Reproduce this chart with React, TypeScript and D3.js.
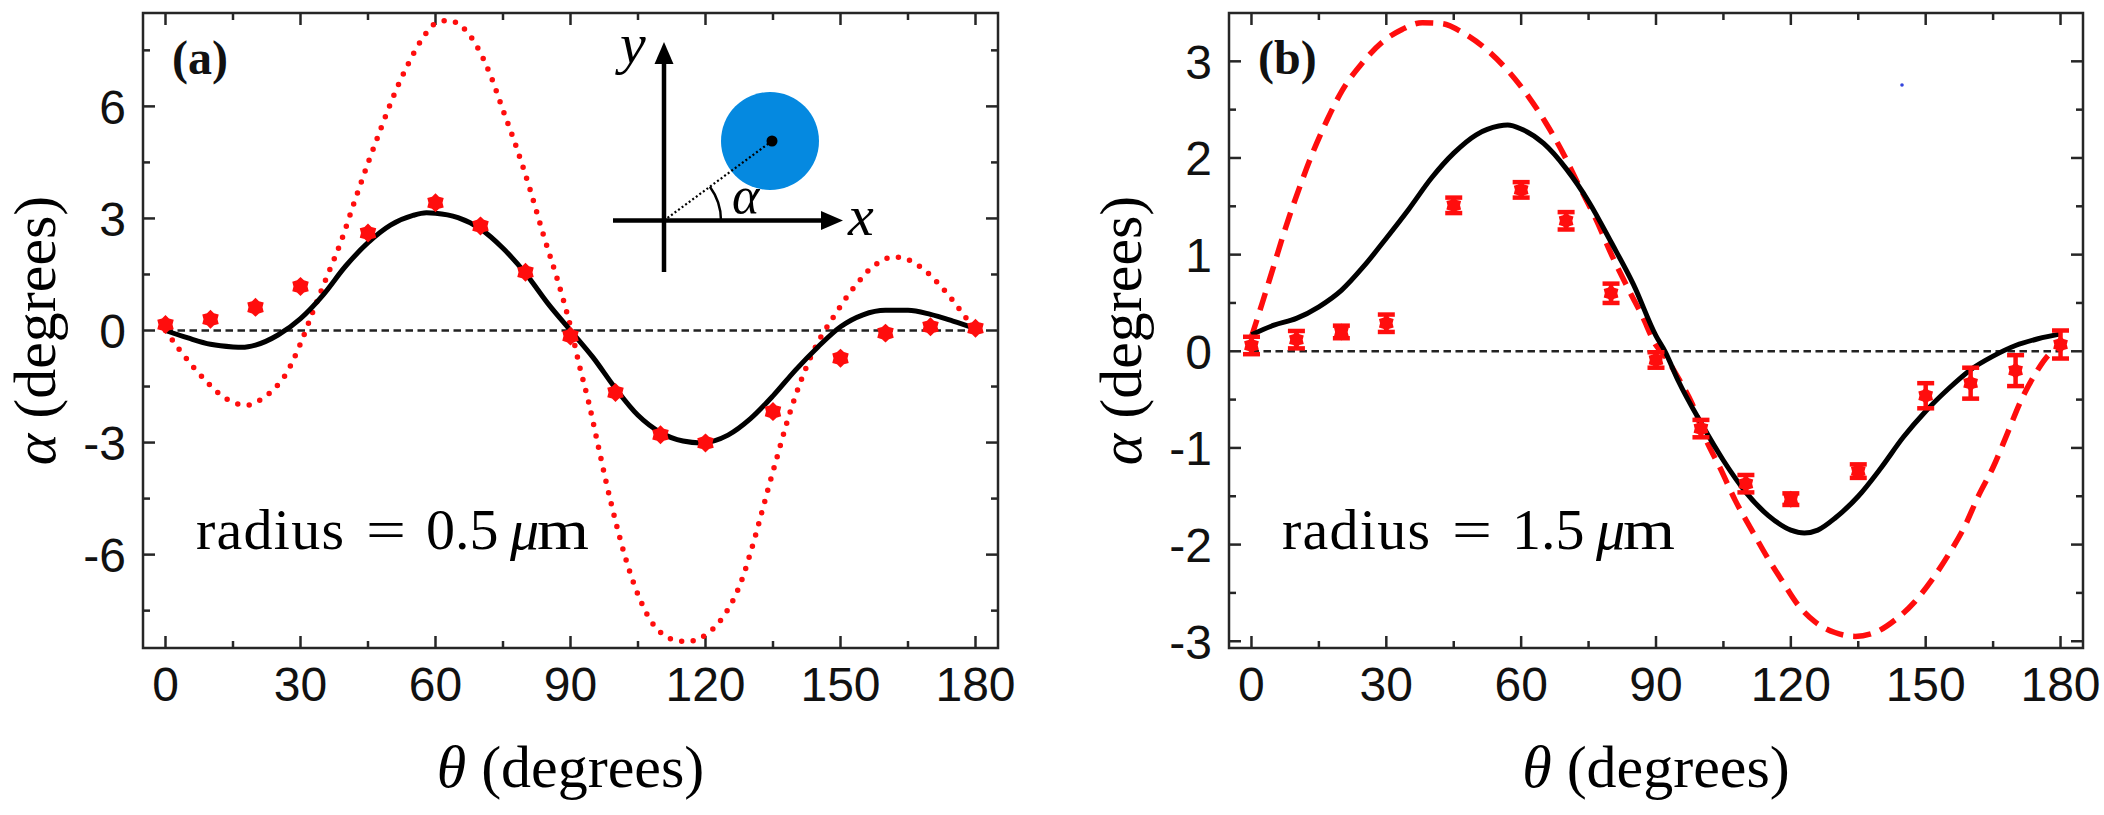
import React from "react";
import * as d3 from "d3";

const W = 2104;
const H = 815;

// ---- shared θ axis ----
const thetaMajor = [0, 30, 60, 90, 120, 150, 180];
const thetaMinor = [15, 45, 75, 105, 135, 165];

// ---- panel (a): radius = 0.5 μm ----
const alphaMajorA = [-6, -3, 0, 3, 6];
const alphaMinorA = [-7.5, -4.5, -1.5, 1.5, 4.5, 7.5];

const measThetaA = [0, 10, 20, 30, 45, 60, 70, 80, 90, 100, 110, 120, 135, 150, 160, 170, 180];
const measAlphaA = [0.16, 0.3, 0.62, 1.18, 2.61, 3.42, 2.8, 1.56, -0.15, -1.66, -2.79, -3.01, -2.17, -0.74, -0.07, 0.1, 0.06];

const solidThetaA = [0, 5, 10, 15, 17, 20, 25, 30, 35, 40, 45, 50, 55, 58, 60, 65, 70, 75, 80, 85, 90, 95, 100, 105, 110, 115, 119, 125, 130, 135, 140, 145, 150, 155, 160, 165, 170, 175, 180];
const solidAlphaA = [0, -0.2, -0.37, -0.44, -0.45, -0.39, -0.12, 0.32, 0.95, 1.72, 2.35, 2.82, 3.08, 3.15, 3.14, 3.02, 2.72, 2.2, 1.53, 0.72, 0.0, -0.72, -1.55, -2.27, -2.73, -2.96, -3.01, -2.8, -2.36, -1.75, -1.06, -0.44, 0.1, 0.42, 0.54, 0.54, 0.43, 0.25, 0.05];

const dottedThetaA = [0, 3, 6, 9, 12, 15, 18, 21, 24, 27, 30, 33, 36, 39, 42, 45, 48, 51, 54, 57, 60, 63, 66, 69, 72, 75, 78, 81, 84, 87, 90, 92, 94, 96, 98, 100, 102, 104, 106, 108, 110, 112, 114, 116, 118, 120, 122, 124, 126, 128, 130, 132, 134, 136, 138, 140, 142, 144, 146, 148, 150, 152, 154, 156, 158, 160, 162, 164, 166, 168, 170, 172, 174, 176, 178, 180];
const dottedAlphaA = [0, -0.5, -0.95, -1.35, -1.7, -1.92, -2.0, -1.86, -1.58, -1.12, -0.35, 0.58, 1.48, 2.38, 3.45, 4.48, 5.45, 6.37, 7.15, 7.8, 8.22, 8.3, 8.12, 7.65, 6.9, 5.9, 4.9, 3.78, 2.55, 1.4, 0.1, -0.95, -1.9, -3.0, -4.1, -5.1, -6.0, -6.75, -7.35, -7.8, -8.08, -8.24, -8.31, -8.33, -8.28, -8.15, -7.95, -7.65, -7.25, -6.7, -5.95, -5.1, -4.2, -3.35, -2.5, -1.75, -1.1, -0.55, -0.1, 0.28, 0.65, 1.0, 1.3, 1.58, 1.78, 1.92, 1.97, 1.94, 1.84, 1.68, 1.48, 1.22, 0.95, 0.64, 0.32, 0.05];

// ---- panel (b): radius = 1.5 μm ----
const alphaMajorB = [-3, -2, -1, 0, 1, 2, 3];
const alphaMinorB = [-2.5, -1.5, -0.5, 0.5, 1.5, 2.5];

const measThetaB = [0, 10, 20, 30, 45, 60, 70, 80, 90, 100, 110, 120, 135, 150, 160, 170, 180];
const measAlphaB = [0.06, 0.12, 0.2, 0.29, 1.51, 1.67, 1.35, 0.6, -0.09, -0.8, -1.37, -1.53, -1.24, -0.46, -0.33, -0.2, 0.07];
const measErrB = [0.09, 0.09, 0.065, 0.09, 0.08, 0.08, 0.09, 0.1, 0.08, 0.09, 0.09, 0.06, 0.07, 0.13, 0.16, 0.16, 0.145];

const solidThetaB = [0, 5, 10, 15, 20, 25, 30, 35, 40, 45, 50, 55, 57, 60, 65, 70, 75, 80, 85, 90, 92, 95, 100, 105, 110, 115, 120, 123, 126, 130, 135, 140, 145, 150, 155, 160, 165, 170, 175, 180];
const solidAlphaB = [0.17, 0.27, 0.34, 0.46, 0.63, 0.88, 1.17, 1.47, 1.79, 2.05, 2.24, 2.33, 2.34, 2.3, 2.15, 1.89, 1.55, 1.13, 0.69, 0.16, 0.0, -0.31, -0.74, -1.13, -1.46, -1.7, -1.85, -1.88, -1.85, -1.72, -1.5, -1.21, -0.89, -0.62, -0.39, -0.19, -0.05, 0.06, 0.13, 0.18];

const dashedThetaB = [0, 2.4, 5, 7.6, 10.5, 13.5, 16.8, 20.2, 24.6, 29.1, 33.5, 38, 42.4, 46.9, 52.1, 57.3, 61.7, 65.4, 69.1, 72.8, 76.6, 80.3, 84, 86.9, 89.9, 92, 95, 98, 100.9, 104.6, 107.6, 111.3, 115, 118, 121.7, 125.4, 129.8, 134.3, 138.7, 143.2, 147.6, 151.3, 155, 158.8, 161.7, 165, 168, 171.3, 174.3, 177.3, 180];
const dashedAlphaB = [0.15, 0.5, 0.89, 1.28, 1.67, 2.04, 2.39, 2.7, 2.98, 3.2, 3.33, 3.4, 3.39, 3.3, 3.13, 2.89, 2.63, 2.37, 2.07, 1.72, 1.37, 0.98, 0.63, 0.37, 0.07, -0.05, -0.28, -0.54, -0.89, -1.24, -1.54, -1.85, -2.15, -2.37, -2.63, -2.8, -2.91, -2.95, -2.91, -2.78, -2.59, -2.37, -2.11, -1.8, -1.5, -1.2, -0.87, -0.5, -0.24, -0.04, 0.05];

const RED = "#ff0d0d";
const FRAME = "#262626";

// six-pointed blob used for the measured points
const hexStar = {
  draw(ctx: any, size: number) {
    const R = Math.sqrt(size);
    for (let i = 0; i < 12; i++) {
      const a = (i * Math.PI) / 6 - Math.PI / 2;
      const r = i % 2 === 0 ? R : R * 0.74;
      const px = r * Math.cos(a);
      const py = r * Math.sin(a);
      if (i === 0) ctx.moveTo(px, py);
      else ctx.lineTo(px, py);
    }
    ctx.closePath();
  },
};
const starA = d3.symbol(hexStar as any, 90)() as string;
const starB = d3.symbol(hexStar as any, 72)() as string;

const zip = (xs: number[], ys: number[]) => xs.map((x, i) => [x, ys[i]] as [number, number]);

type PanelProps = {
  left: number;
  right: number;
  top: number;
  bottom: number;
  yDomain: [number, number];
  yMajor: number[];
  yMinor: number[];
  tag: string;
  radiusText: string;
  measTheta: number[];
  measAlpha: number[];
  measErr?: number[];
  star: string;
  solid: [number, number][];
  model: [number, number][];
  modelDash: string;
  modelCap: "round" | "butt";
  children?: React.ReactNode;
};

function Panel(p: PanelProps) {
  const x = d3.scaleLinear().domain([-5, 185]).range([p.left, p.right]);
  const y = d3.scaleLinear().domain(p.yDomain).range([p.bottom, p.top]);
  const line = d3
    .line<[number, number]>()
    .x((d) => x(d[0]))
    .y((d) => y(d[1]))
    .curve(d3.curveMonotoneX);
  const MAJ = 12;
  const MIN = 7;
  const cx = (p.left + p.right) / 2;
  const cy = (p.top + p.bottom) / 2;
  const rx = p.left + 53;
  return (
    <g>
      {/* zero reference */}
      <line x1={x(0)} x2={x(180)} y1={y(0)} y2={y(0)} stroke="#222" strokeWidth={2.5} strokeDasharray="7.5 4.5" />
      {/* frame */}
      <rect x={p.left} y={p.top} width={p.right - p.left} height={p.bottom - p.top} fill="none" stroke={FRAME} strokeWidth={2.5} />
      {thetaMajor.concat(thetaMinor).map((t) => {
        const len = thetaMajor.includes(t) ? MAJ : MIN;
        return (
          <g key={"xt" + t} stroke={FRAME} strokeWidth={2.5}>
            <line x1={x(t)} x2={x(t)} y1={p.bottom} y2={p.bottom - len} />
            <line x1={x(t)} x2={x(t)} y1={p.top} y2={p.top + len} />
          </g>
        );
      })}
      {p.yMajor.concat(p.yMinor).map((v) => {
        const len = p.yMajor.includes(v) ? MAJ : MIN;
        return (
          <g key={"yt" + v} stroke={FRAME} strokeWidth={2.5}>
            <line x1={p.left} x2={p.left + len} y1={y(v)} y2={y(v)} />
            <line x1={p.right} x2={p.right - len} y1={y(v)} y2={y(v)} />
          </g>
        );
      })}
      {/* tick labels */}
      <g fontFamily="'Liberation Sans', Arial, sans-serif" fontSize={48} fill="#111">
        {thetaMajor.map((t) => (
          <text key={"xl" + t} x={x(t)} y={701} textAnchor="middle">
            {t}
          </text>
        ))}
        {p.yMajor.map((v) => (
          <text key={"yl" + v} x={p.left - 17} y={y(v)} dy="0.36em" textAnchor="end">
            {v}
          </text>
        ))}
      </g>
      {/* axis titles */}
      <text x={cx} y={787} textAnchor="middle" fontFamily="'Liberation Serif', serif" fontSize={60} fill="#000">
        <tspan fontStyle="italic">θ</tspan>
        <tspan> (degrees)</tspan>
      </text>
      <text
        transform={`translate(${p.left - 88},${cy}) rotate(-90)`}
        textAnchor="middle"
        fontFamily="'Liberation Serif', serif"
        fontSize={60}
        fill="#000"
      >
        <tspan fontStyle="italic">α</tspan>
        <tspan> (degrees)</tspan>
      </text>
      {/* panel tag */}
      <text x={p.left + 29} y={74} fontFamily="'Liberation Serif', serif" fontWeight="bold" fontSize={48} fill="#111">
        {p.tag}
      </text>
      {/* radius annotation */}
      <g fontFamily="'Liberation Serif', serif" fontSize={58} fill="#000">
        <text x={rx} y={549} textLength={148} lengthAdjust="spacing">radius</text>
        <text x={rx + 170} y={549} textLength={40} lengthAdjust="spacingAndGlyphs">=</text>
        <text x={rx + 230} y={549}>{p.radiusText}</text>
        <text x={rx + 314} y={549} fontStyle="italic">μ</text>
        <text x={rx + 341} y={549} textLength={52} lengthAdjust="spacingAndGlyphs">m</text>
      </g>
      {p.children}
      {/* model curves */}
      <path d={line(p.model) || ""} fill="none" stroke={RED} strokeWidth={5.5} strokeDasharray={p.modelDash} strokeLinecap={p.modelCap} />
      <path d={line(p.solid) || ""} fill="none" stroke="#000" strokeWidth={5} />
      {/* measurements */}
      {p.measTheta.map((t, i) => {
        const v = p.measAlpha[i];
        const e = p.measErr ? p.measErr[i] : 0;
        return (
          <g key={"m" + t}>
            {e > 0 && (
              <g stroke={RED} strokeWidth={4.5}>
                <line x1={x(t)} x2={x(t)} y1={y(v - e)} y2={y(v + e)} />
                <line x1={x(t) - 8.5} x2={x(t) + 8.5} y1={y(v - e)} y2={y(v - e)} />
                <line x1={x(t) - 8.5} x2={x(t) + 8.5} y1={y(v + e)} y2={y(v + e)} />
              </g>
            )}
            <path d={p.star} transform={`translate(${x(t)},${y(v)})`} fill={RED} />
          </g>
        );
      })}
    </g>
  );
}

function Inset() {
  const ox = 664;
  const oy = 220.5;
  const bx = 772;
  const by = 141;
  const ang = Math.atan2(oy - by, bx - ox);
  const ar = 57;
  return (
    <g>
      <circle cx={770} cy={141} r={49} fill="#0589e0" />
      <line x1={ox} y1={oy} x2={bx} y2={by} stroke="#000" strokeWidth={2.2} strokeDasharray="2 2.4" />
      <circle cx={bx} cy={by} r={5.5} fill="#000" />
      <line x1={ox} y1={272} x2={ox} y2={60} stroke="#000" strokeWidth={4.5} />
      <polygon points={`${ox},42 ${ox - 9.5},64 ${ox + 9.5},64`} fill="#000" />
      <line x1={613} y1={oy} x2={826} y2={oy} stroke="#000" strokeWidth={4.5} />
      <polygon points={`843,${oy} 821,${oy - 9.5} 821,${oy + 9.5}`} fill="#000" />
      <path
        d={`M${ox + ar},${oy} A${ar},${ar} 0 0 0 ${ox + ar * Math.cos(ang)},${oy - ar * Math.sin(ang)}`}
        fill="none"
        stroke="#000"
        strokeWidth={2.5}
      />
      <g fontFamily="'Liberation Serif', serif" fontStyle="italic" fill="#000">
        <text x={620} y={63} fontSize={58}>y</text>
        <text x={848} y={235} fontSize={58}>x</text>
        <text x={732} y={213} fontSize={52}>α</text>
      </g>
    </g>
  );
}

export default function App() {
  return (
    <svg
      width={W}
      height={H}
      viewBox={`0 0 ${W} ${H}`}
      style={{ position: "absolute", left: 0, top: 0, display: "block", background: "#fff" }}
    >
      <rect x={0} y={0} width={W} height={H} fill="#fff" />
      <Panel
        left={143}
        right={998}
        top={13}
        bottom={648}
        yDomain={[-8.5, 8.5]}
        yMajor={alphaMajorA}
        yMinor={alphaMinorA}
        tag="(a)"
        radiusText="0.5"
        measTheta={measThetaA}
        measAlpha={measAlphaA}
        star={starA}
        solid={zip(solidThetaA, solidAlphaA)}
        model={zip(dottedThetaA, dottedAlphaA)}
        modelDash="0 11.6"
        modelCap="round"
      >
        <Inset />
      </Panel>
      <Panel
        left={1229}
        right={2083}
        top={13}
        bottom={648}
        yDomain={[-3.07, 3.5]}
        yMajor={alphaMajorB}
        yMinor={alphaMinorB}
        tag="(b)"
        radiusText="1.5"
        measTheta={measThetaB}
        measAlpha={measAlphaB}
        measErr={measErrB}
        star={starB}
        solid={zip(solidThetaB, solidAlphaB)}
        model={zip(dashedThetaB, dashedAlphaB)}
        modelDash="18 10"
        modelCap="butt"
      >
        <circle cx={1902} cy={85} r={1.8} fill="#3344dd" />
      </Panel>
    </svg>
  );
}
